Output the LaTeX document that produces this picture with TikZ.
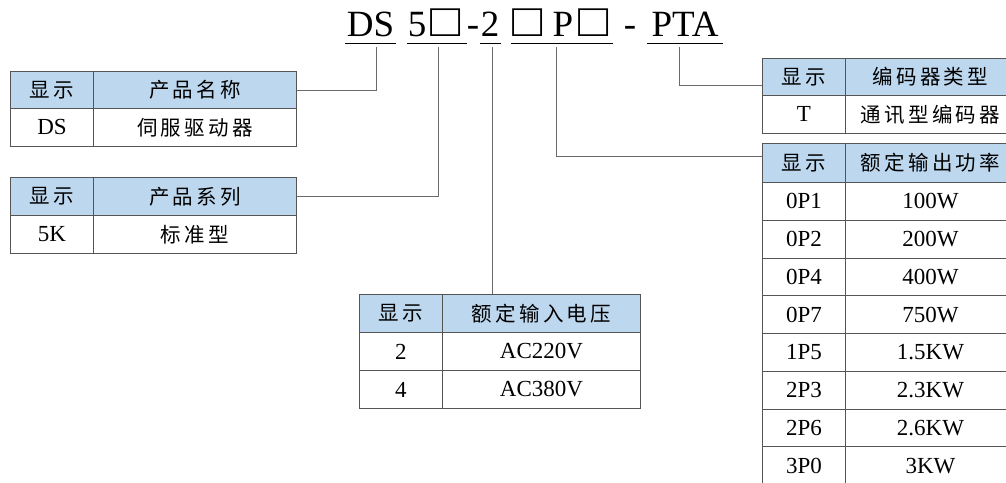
\documentclass[tikz,border=0pt]{standalone}
\usepackage{fontspec}
\setmainfont{Liberation Serif}
\newfontfamily\cjkfont[LetterSpace=16]{Noto Sans CJK SC}
\definecolor{headblue}{HTML}{BDD7EE}
\definecolor{bordercol}{HTML}{555555}
\definecolor{linkcol}{HTML}{6A6A6A}
\tikzset{
  ttl/.style={anchor=base, inner sep=0pt, font=\fontsize{37}{40}\selectfont},
  uline/.style={draw=black, line width=1.4pt},
  link/.style={draw=linkcol, line width=0.9pt},
  cell/.style={draw=bordercol, line width=0.9pt, rectangle, inner sep=0pt, anchor=north west,
               font=\fontsize{23}{26}\selectfont},
  hcell/.style={cell, fill=headblue},
  cn/.style={font=\fontsize{20.5}{24}\selectfont\cjkfont},
}
\begin{document}
\begin{tikzpicture}[x=1pt,y=-1pt]
\useasboundingbox (0,0) rectangle (1006,482);
\clip (0,0) rectangle (1006,482);
\fill[white] (0,0) rectangle (1006,482);

% ---------- title ----------
\node[ttl] (tDS) at (370.5,36) {DS};
\node[ttl] (t5) at (417,36) {5};
\node[ttl] (tsqa) at (446,36) {\scalebox{1.35}[1.25]{□}};
\node[ttl] (tdasha) at (473,36) {-};
\node[ttl] (t2) at (490,36) {2};
\node[ttl] (tsqb) at (528,36) {\scalebox{1.35}[1.25]{□}};
\node[ttl] (tP) at (563,36) {P};
\node[ttl] (tsqc) at (594,36) {\scalebox{1.35}[1.25]{□}};
\node[ttl] (tdashb) at (630,36) {-};
\node[ttl] (tPTA) at (685,36) {PTA};

\draw[uline] (345,43.5) -- (396,43.5);
\draw[uline] (407,43.5) -- (467,43.5);
\draw[uline] (480,43.5) -- (501,43.5);
\draw[uline] (511,43.5) -- (613,43.5);
\draw[uline] (647,43.5) -- (723,43.5);

\coordinate (ka) at (376,47);
\coordinate (kb) at (438,47);
\coordinate (kc) at (492,47);
\coordinate (kd) at (556,47);
\coordinate (ke) at (679,47);

% ---------- table 1 ----------
\node[hcell, cn, minimum width=83pt, minimum height=37pt] (aha) at (10,71) {显示};
\node[hcell, cn, minimum width=203pt, minimum height=37pt] (ahb) at (93,71) {产品名称};
\node[cell, minimum width=83pt, minimum height=38pt] (ara) at (10,108) {DS};
\node[cell, cn, minimum width=203pt, minimum height=38pt] (arb) at (93,108) {伺服驱动器};

% ---------- table 2 ----------
\node[hcell, cn, minimum width=83pt, minimum height=38pt] (bha) at (10,177) {显示};
\node[hcell, cn, minimum width=203pt, minimum height=38pt] (bhb) at (93,177) {产品系列};
\node[cell, minimum width=83pt, minimum height=38pt] (bra) at (10,215) {5K};
\node[cell, cn, minimum width=203pt, minimum height=38pt] (brb) at (93,215) {标准型};

% ---------- table 3 ----------
\node[hcell, cn, minimum width=83pt, minimum height=38pt] (cha) at (359,294) {显示};
\node[hcell, cn, minimum width=198pt, minimum height=38pt] (chb) at (442,294) {额定输入电压};
\node[cell, minimum width=83pt, minimum height=38pt] (cra) at (359,332) {2};
\node[cell, minimum width=198pt, minimum height=38pt] (crb) at (442,332) {AC220V};
\node[cell, minimum width=83pt, minimum height=38pt] (csa) at (359,370) {4};
\node[cell, minimum width=198pt, minimum height=38pt] (csb) at (442,370) {AC380V};

% ---------- table 4 ----------
\node[hcell, cn, minimum width=83pt, minimum height=37pt] (dha) at (762,58) {显示};
\node[hcell, cn, minimum width=170pt, minimum height=37pt] (dhb) at (845,58) {编码器类型};
\node[cell, minimum width=83pt, minimum height=38pt] (dra) at (762,95) {T};
\node[cell, cn, minimum width=170pt, minimum height=38pt] (drb) at (845,95) {通讯型编码器};

% ---------- table 5 ----------
\node[hcell, cn, minimum width=83pt, minimum height=39pt] (eha) at (762,143) {显示};
\node[hcell, cn, minimum width=170pt, minimum height=39pt] (ehb) at (845,143) {额定输出功率};
\foreach \i/\code/\pw in {0/0P1/100W,1/0P2/200W,2/0P4/400W,3/0P7/750W,4/1P5/1.5KW,5/2P3/2.3KW,6/2P6/2.6KW,7/3P0/3KW}{
  \node[cell, minimum width=83pt, minimum height=37.75pt] (ea\i) at (762,182+37.75*\i) {\code};
  \node[cell, minimum width=170pt, minimum height=37.75pt] (eb\i) at (845,182+37.75*\i) {\pw};
}

% ---------- connectors ----------
\draw[link] (ka) |- (ahb.east);
\draw[link] (kb) |- (bhb.east);
\draw[link] (kc) -- (kc |- chb.north);
\draw[link] (kd) |- ([yshift=-13.5pt]eha.north west);
\draw[link] (ke) |- ([yshift=10pt]dha.south west);
\end{tikzpicture}
\end{document}
